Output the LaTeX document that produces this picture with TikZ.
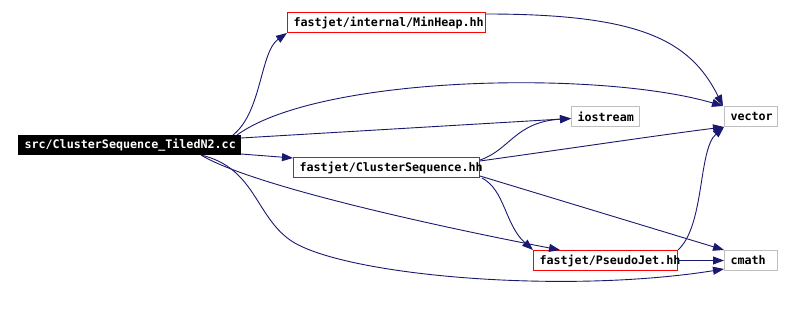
\documentclass[tikz,border=0pt]{standalone}
\usepackage{fontspec}
\setmonofont{DejaVu Sans Mono}
\usetikzlibrary{arrows.meta}
\definecolor{edgecol}{RGB}{25,25,112}
\definecolor{greyb}{RGB}{191,191,191}
\newcommand{\boxlbl}[2]{\makebox[#1][l]{\hspace{6pt}#2}}
\begin{document}
\begin{tikzpicture}[x=1pt,y=-1pt,
  box/.style={draw, line width=1pt, inner sep=0pt, minimum height=20pt, anchor=north west,
    font=\ttfamily\bfseries\fontsize{11.7}{12}\selectfont},
  redbox/.style={box, draw=red, fill=white},
  greybox/.style={box, draw=greyb, fill=white},
  srcbox/.style={box, draw=black, fill=black, text=white, minimum height=19pt},
  dep/.style={draw=edgecol, line width=0.9pt, -{Triangle[length=11pt,width=8pt]}}
]
\useasboundingbox (0,0) rectangle (793,326);

% nodes
\node[srcbox, minimum width=222pt] (src) at (18,135) {\boxlbl{222pt}{src/ClusterSequence\_TiledN2.cc}};
\node[redbox, minimum width=198pt] (minheap) at (287,12) {\boxlbl{198pt}{fastjet/internal/MinHeap.hh}};
\node[redbox, minimum width=186pt] (clseq) at (293,157) {\boxlbl{186pt}{fastjet/ClusterSequence.hh}};
\node[greybox, minimum width=68pt] (iostream) at (571,106) {\boxlbl{68pt}{iostream}};
\node[greybox, minimum width=53pt] (vector) at (724,106) {\boxlbl{53pt}{vector}};
\node[redbox, minimum width=144pt] (pseudojet) at (533,250) {\boxlbl{144pt}{fastjet/PseudoJet.hh}};
\node[greybox, minimum width=53pt] (cmath) at (724,250) {\boxlbl{53pt}{cmath}};

% edges
\draw[dep] ([xshift=-8pt]src.north east) .. controls (262,112) and (260,52) .. (minheap.south west);
\draw[dep] ([xshift=-4pt]src.north east) .. controls (320,75) and (600,70) .. ([xshift=-1pt]vector.north west);
\draw[dep] ([yshift=7pt]src.east) -- ([yshift=-2pt]iostream.west);
\draw[dep] ([yshift=1pt]src.south east) -- ([yshift=-1pt]clseq.north west);
\draw[dep] ([xshift=-40pt]src.south east) .. controls (250,185) and (430,225) .. ([xshift=27pt]pseudojet.north west);
\draw[dep] ([xshift=-40pt]src.south east) .. controls (255,168) and (255,215) .. (290,240)
  .. controls (340,275) and (560,295) .. ([yshift=2pt]cmath.south west);
\draw[dep] ([yshift=-2pt]minheap.north east) .. controls (640,14) and (690,40) .. ([xshift=-1pt]vector.north west);
\draw[dep] ([yshift=-3pt]clseq.north east) .. controls (510,150) and (515,122) .. ([yshift=-2pt]iostream.west);
\draw[dep] ([yshift=-4pt]clseq.north east) .. controls (580,147) and (660,135) .. (vector.south west);
\draw[dep] ([yshift=2pt]clseq.south east) -- (cmath.north west);
\draw[dep] ([xshift=2pt]clseq.south east) .. controls (505,190) and (505,225) .. (pseudojet.north west);
\draw[dep] (pseudojet.east) -- (cmath.west);
\draw[dep] (pseudojet.north east) .. controls (705,225) and (698,150) .. (vector.south west);
\end{tikzpicture}
\end{document}
